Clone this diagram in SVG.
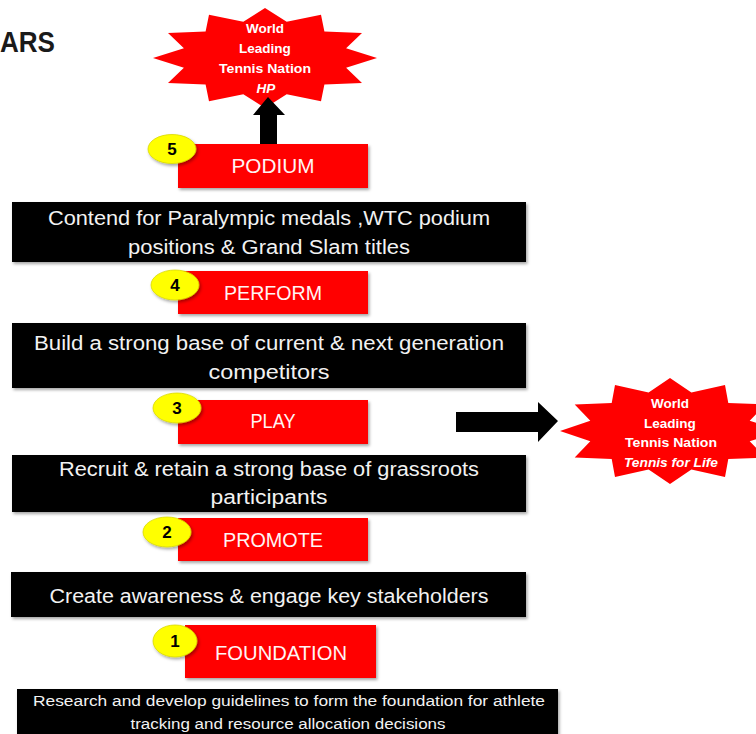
<svg xmlns="http://www.w3.org/2000/svg" width="756" height="734" viewBox="0 0 756 734">
  <defs>
    <filter id="shadow" x="-10%" y="-10%" width="120%" height="130%">
      <feDropShadow dx="1.5" dy="2" stdDeviation="1.5" flood-color="#000" flood-opacity="0.35"/>
    </filter>
    <style>
      .bar { fill: #000; filter: url(#shadow); }
      .stage { fill: #ff0000; filter: url(#shadow); }
      .badge { fill: #ffff00; stroke: #d9d900; stroke-width: 0.8; filter: url(#shadow); }
      .burst { fill: #ff0000; }
      .arrow { fill: #000; }
      .bartext { font-family: "Liberation Sans", Arial, sans-serif; font-size: 20px; fill: #f2f2f2; text-anchor: middle; }
      .small { font-size: 15.5px; }
      .stagetext { font-family: "Liberation Sans", Arial, sans-serif; font-size: 20px; fill: #fff4f4; text-anchor: middle; }
      .num { font-family: "Liberation Sans", Arial, sans-serif; font-size: 17px; font-weight: bold; fill: #000; text-anchor: middle; }
      .bursttext { font-family: "Liberation Sans", Arial, sans-serif; font-size: 13.5px; font-weight: bold; fill: #ffffff; text-anchor: middle; }
      .title { font-family: "Liberation Sans", Arial, sans-serif; font-size: 29px; font-weight: bold; fill: #1a1a1a; }
    </style>
  </defs>

  <rect width="756" height="734" fill="#ffffff"/>

  <text class="title" x="0" y="52" textLength="55" lengthAdjust="spacingAndGlyphs">ARS</text>

  <!-- goal bursts -->
  <g id="goal-hp">
    <polygon class="burst" points="377,58 346.1,48.3 362,33 324.4,31.5 321,14.7 286.7,21.8 265,8 243.3,21.8 209,14.7 205.6,31.5 168,33 183.9,48.3 153,58 183.9,67.7 168,83 205.6,84.5 209,101.3 243.3,94.2 265,108 286.7,94.2 321,101.3 324.4,84.5 362,83 346.1,67.7"/>
    <text class="bursttext" x="265" y="33">World</text>
    <text class="bursttext" x="265" y="53">Leading</text>
    <text class="bursttext" x="265" y="73" textLength="92" lengthAdjust="spacingAndGlyphs">Tennis Nation</text>
    <text class="bursttext" x="266" y="93" font-style="italic">HP</text>
  </g>

  <g id="goal-life">
    <polygon class="burst" points="780,431 749.7,420.7 765.3,404.5 728.3,402.9 725,385.1 691.4,392.6 670,378 648.6,392.6 615,385.1 611.7,402.9 574.7,404.5 590.3,420.7 560,431 590.3,441.3 574.7,457.5 611.7,459.1 615,476.9 648.6,469.4 670,484 691.4,469.4 725,476.9 728.3,459.1 765.3,457.5 749.7,441.3"/>
    <text class="bursttext" x="670" y="408">World</text>
    <text class="bursttext" x="670" y="428">Leading</text>
    <text class="bursttext" x="671" y="447" textLength="92" lengthAdjust="spacingAndGlyphs">Tennis Nation</text>
    <text class="bursttext" x="671" y="467" font-style="italic" textLength="94" lengthAdjust="spacingAndGlyphs">Tennis for Life</text>
  </g>

  <!-- connectors: block arrows -->
  <g id="connectors">
    <polygon class="arrow" points="260,147 260,115 253,115 268,97 285,115 277,115 277,147"/>
    <polygon class="arrow" points="456,412 538,412 538,402 558,421 538,442 538,432 456,432"/>
  </g>

  <!-- stage 5 -->
  <g id="podium">
    <rect class="stage" x="178" y="144" width="190" height="44"/>
    <text class="stagetext" x="273" y="173" textLength="83" lengthAdjust="spacingAndGlyphs">PODIUM</text>
    <ellipse class="badge" cx="172" cy="149" rx="24" ry="14.5"/>
    <text class="num" x="172" y="155">5</text>
  </g>

  <g id="podium-desc">
    <rect class="bar" x="12" y="202" width="514" height="60"/>
    <text class="bartext" x="269" y="225" textLength="442" lengthAdjust="spacingAndGlyphs">Contend for Paralympic medals ,WTC podium</text>
    <text class="bartext" x="269" y="254" textLength="282" lengthAdjust="spacingAndGlyphs">positions &amp; Grand Slam titles</text>
  </g>

  <!-- stage 4 -->
  <g id="perform">
    <rect class="stage" x="178" y="271" width="190" height="43"/>
    <text class="stagetext" x="273" y="300" textLength="98" lengthAdjust="spacingAndGlyphs">PERFORM</text>
    <ellipse class="badge" cx="175" cy="285" rx="24" ry="15"/>
    <text class="num" x="175" y="291">4</text>
  </g>

  <g id="perform-desc">
    <rect class="bar" x="12" y="323" width="514" height="65"/>
    <text class="bartext" x="269" y="350" textLength="470" lengthAdjust="spacingAndGlyphs">Build a strong base of current &amp; next generation</text>
    <text class="bartext" x="269" y="379" textLength="121" lengthAdjust="spacingAndGlyphs">competitors</text>
  </g>

  <!-- stage 3 -->
  <g id="play">
    <rect class="stage" x="178" y="400" width="190" height="44"/>
    <text class="stagetext" x="273" y="428" textLength="45" lengthAdjust="spacingAndGlyphs">PLAY</text>
    <ellipse class="badge" cx="177" cy="408" rx="24" ry="15"/>
    <text class="num" x="177" y="414">3</text>
  </g>

  <g id="play-desc">
    <rect class="bar" x="12" y="455" width="514" height="57"/>
    <text class="bartext" x="269" y="476" textLength="420" lengthAdjust="spacingAndGlyphs">Recruit &amp; retain a strong base of grassroots</text>
    <text class="bartext" x="269" y="504" textLength="117" lengthAdjust="spacingAndGlyphs">participants</text>
  </g>

  <!-- stage 2 -->
  <g id="promote">
    <rect class="stage" x="178" y="518" width="190" height="43"/>
    <text class="stagetext" x="273" y="547" textLength="100" lengthAdjust="spacingAndGlyphs">PROMOTE</text>
    <ellipse class="badge" cx="167" cy="532" rx="24" ry="15"/>
    <text class="num" x="167" y="538">2</text>
  </g>

  <g id="promote-desc">
    <rect class="bar" x="11" y="572" width="515" height="45"/>
    <text class="bartext" x="269" y="603" textLength="439" lengthAdjust="spacingAndGlyphs">Create awareness &amp; engage key stakeholders</text>
  </g>

  <!-- stage 1 -->
  <g id="foundation">
    <rect class="stage" x="185" y="625" width="191" height="53"/>
    <text class="stagetext" x="281" y="660" textLength="132" lengthAdjust="spacingAndGlyphs">FOUNDATION</text>
    <ellipse class="badge" cx="175" cy="641" rx="22" ry="16"/>
    <text class="num" x="175" y="647">1</text>
  </g>

  <g id="foundation-desc">
    <rect class="bar" x="17" y="689" width="541" height="50"/>
    <text class="bartext small" x="289" y="706" textLength="512" lengthAdjust="spacingAndGlyphs">Research and develop guidelines to form the foundation for athlete</text>
    <text class="bartext small" x="288" y="729" textLength="315" lengthAdjust="spacingAndGlyphs">tracking and resource allocation decisions</text>
  </g>
</svg>
